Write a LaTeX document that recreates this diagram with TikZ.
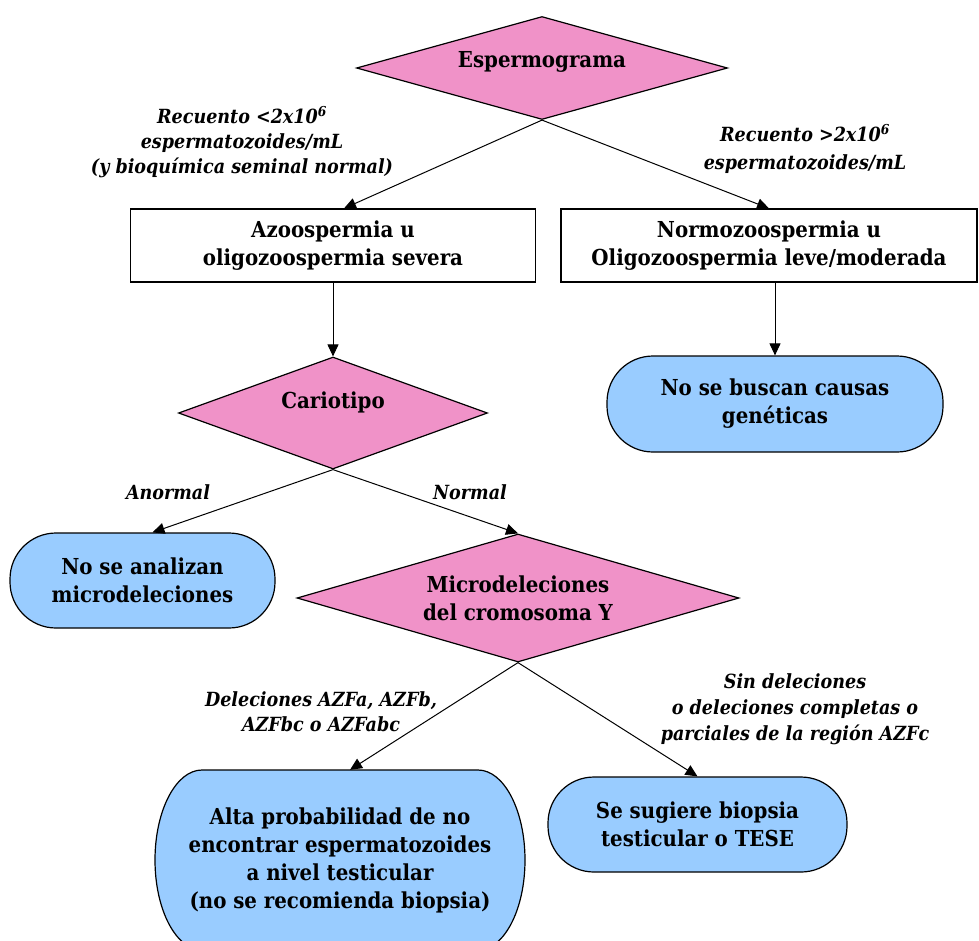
\documentclass[tikz,border=0pt]{standalone}
\usepackage{fontspec}
\setmainfont{DejaVu Serif Condensed}
\usetikzlibrary{shapes.geometric,arrows.meta}
\definecolor{pinkfill}{RGB}{240,146,200}
\definecolor{bluefill}{RGB}{153,204,255}
\begin{document}
\begin{tikzpicture}[x=1pt,y=-1pt,
  every node/.style={font=\bfseries\fontsize{22}{28}\selectfont, align=center},
  decision/.style={diamond, aspect=4, draw=black, fill=pinkfill, line width=1.2pt, inner sep=0pt},
  procbox/.style={rectangle, draw=black, fill=white, line width=1.2pt, inner sep=0pt},
  endbox/.style={rectangle, rounded corners=46pt, draw=black, fill=bluefill, line width=1.2pt, inner sep=0pt},
  lbl/.style={font=\bfseries\itshape\fontsize{19.5}{25}\selectfont},
  arr/.style={-{Triangle[length=12pt,width=11pt]}, line width=1pt}]
\useasboundingbox (0,0) rectangle (979,940);
% decisions and steps
\node[decision, minimum width=371pt, minimum height=103pt, text depth=17pt] (esp) at (542,68) {Espermograma};
\node[procbox, minimum width=405pt, minimum height=73pt] (azoo) at (333,245.5) {Azoospermia u\\oligozoospermia severa};
\node[procbox, minimum width=416pt, minimum height=73pt] (normo) at (769,245.5) {Normozoospermia u\\Oligozoospermia leve/moderada};
\node[decision, minimum width=309pt, minimum height=112pt, text depth=25pt] (cario) at (333,413) {Cariotipo};
\node[endbox, minimum width=336pt, minimum height=96pt] (nobus) at (775,404) {No se buscan causas\\genéticas};
\node[endbox, minimum width=265pt, minimum height=95pt] (noana) at (142.5,580.5) {No se analizan\\microdeleciones};
\node[decision, minimum width=442pt, minimum height=128pt] (micro) at (518,598) {Microdeleciones\\del cromosoma Y};
% tall terminator with elliptical ends
\draw[line width=1.2pt, fill=bluefill] (202,770) arc[start angle=270, end angle=90, x radius=47, y radius=90]
  -- (478,950) arc[start angle=90, end angle=-90, x radius=47, y radius=90] -- cycle;
\node[rectangle, inner sep=0pt, minimum width=370pt, minimum height=180pt] (alta) at (340,860) {Alta probabilidad de no\\encontrar espermatozoides\\a nivel testicular\\(no se recomienda biopsia)};
\node[endbox, minimum width=299pt, minimum height=95pt] (sug) at (697.5,824.5) {Se sugiere biopsia\\testicular o TESE};
% connectors
\draw[arr] (esp.south) -- ([xshift=11pt]azoo.north);
\draw[arr] (esp.south) -- (normo.north);
\draw[arr] (azoo.south) -- (cario.north);
\draw[arr] (normo.south -| nobus.north) -- (nobus.north);
\draw[arr] (cario.south) -- ([xshift=10pt]noana.north);
\draw[arr] (cario.south) -- (micro.north);
\draw[arr] (micro.south) -- ([xshift=10pt]alta.north);
\draw[arr] (micro.south) -- (sug.north);
% branch labels
\node[lbl] (l1) at (242,142) {Recuento <2x10\textsuperscript{6}\\espermatozoides/mL\\(y bioquímica seminal normal)};
\node[lbl, font=\bfseries\itshape\fontsize{19.5}{28}\selectfont] (l2) at (805,149) {Recuento >2x10\textsuperscript{6}\\espermatozoides/mL};
\node[lbl] (l3) at (168,492) {Anormal};
\node[lbl] (l4) at (470,492) {Normal};
\node[lbl] (l5) at (321,712) {Deleciones AZFa, AZFb,\\AZFbc o AZFabc};
\node[lbl, font=\bfseries\itshape\fontsize{19.5}{26}\selectfont] (l6) at (795,709) {Sin deleciones\\o deleciones completas o\\parciales de la región AZFc};
\end{tikzpicture}
\end{document}
